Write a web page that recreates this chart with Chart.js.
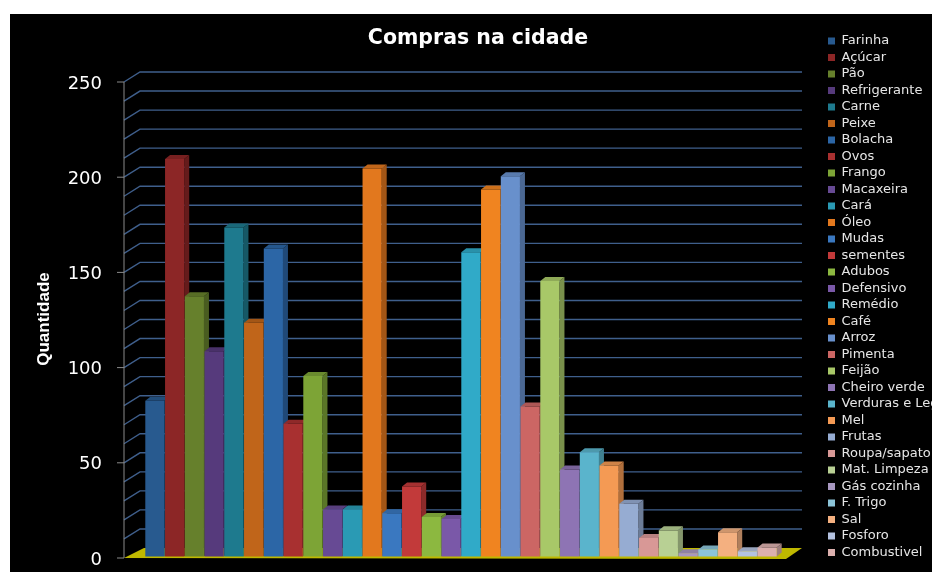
<!DOCTYPE html>
<html lang="pt">
<head>
    <meta charset="UTF-8">
    <title>Compras na cidade</title>
    <style>
body, html {
    margin: 0;
    padding: 0;
    background-color: #ffffff;
    overflow: hidden;
}

#painel {
    position: absolute;
    left: 10px;
    top: 14px;
    width: 922px;
    height: 558px;
    background-color: #000000;
}
    </style>
    <script src="https://cdn.jsdelivr.net/npm/chart.js"></script>
</head>
<body>
    <div id="painel"><canvas id="compras" width="922" height="558"></canvas></div>

    <script>
        const produtos = ['Farinha', 'Açúcar', 'Pão', 'Refrigerante', 'Carne', 'Peixe', 'Bolacha', 'Ovos',
            'Frango', 'Macaxeira', 'Cará', 'Óleo', 'Mudas', 'sementes', 'Adubos', 'Defensivo',
            'Remédio', 'Café', 'Arroz', 'Pimenta', 'Feijão', 'Cheiro verde', 'Verduras e Legumes', 'Mel',
            'Frutas', 'Roupa/sapato', 'Mat. Limpeza', 'Gás cozinha', 'F. Trigo', 'Sal', 'Fosforo', 'Combustivel'];
        const quantidades = [82, 209, 137, 108, 173, 123, 162, 70,
            95, 25, 25, 204, 23, 37, 21, 20,
            160, 193, 200, 79, 145, 46, 55, 48,
            28, 10, 14, 2, 4, 13, 3, 5];
        const cores = ['#285a8f', '#8c2626', '#66802c', '#563a7c', '#1e7a8e', '#c0651a',
            '#2c66a6', '#a83030', '#7da436', '#674a94', '#2a9ab4', '#e2781e',
            '#3a78c0', '#c23a3a', '#8cb840', '#7a58a8', '#30aac8', '#f08420',
            '#6890cc', '#cc6664', '#a8c868', '#8e74b4', '#5ab4cc', '#f49a54',
            '#96acd2', '#d89896', '#b8d094', '#a898c0', '#8cc4d8', '#f4b080',
            '#b4c2e0', '#dcb0ae'];
        const eixoTicks = [0, 50, 100, 150, 200, 250];

        // side faces, walls and floor are drawn from the chart's own scales
        const PROF_X = 16, PROF_Y = 10;
        const LADO_X = 5, LADO_Y = 4;

        function escurecer(hex, f) {
            const n = parseInt(hex.slice(1), 16);
            const c = [n >> 16, (n >> 8) & 255, n & 255].map(v => Math.round(v * f));
            return `rgb(${c[0]}, ${c[1]}, ${c[2]})`;
        }

        const cenario3d = {
            id: 'cenario3d',
            afterLayout(chart) {
                // the legend sits further right and lower than its box would put it
                chart.legend.left = 814.5;
                chart.legend.top = 17;
                chart.legend.bottom = chart.height;
            },
            beforeDatasetsDraw(chart) {
                const ctx = chart.ctx;
                const y = chart.scales.y;
                const { left, right } = chart.chartArea;
                const x0 = left - 21, x1 = right + 9;
                ctx.save();
                // grid lines run along the side wall and the back wall
                ctx.strokeStyle = '#3f5f8c';
                ctx.lineWidth = 1.4;
                for (let v = 10; v <= 250; v += 10) {
                    const py = y.getPixelForValue(v) + 1;
                    ctx.beginPath();
                    ctx.moveTo(x0, py);
                    ctx.lineTo(x0 + PROF_X, py - PROF_Y);
                    ctx.lineTo(x1 + PROF_X, py - PROF_Y);
                    ctx.stroke();
                }
                // floor
                const py0 = y.getPixelForValue(0) + 1;
                ctx.fillStyle = '#bfb800';
                ctx.beginPath();
                ctx.moveTo(x0, py0);
                ctx.lineTo(x0 + PROF_X + 4, py0 - PROF_Y);
                ctx.lineTo(x1 + PROF_X, py0 - PROF_Y);
                ctx.lineTo(x1, py0 + 1);
                ctx.closePath();
                ctx.fill();
                // value axis line and its marks
                ctx.strokeStyle = '#8a8a8a';
                ctx.lineWidth = 1;
                ctx.beginPath();
                ctx.moveTo(x0, y.getPixelForValue(250) + 1);
                ctx.lineTo(x0, py0);
                eixoTicks.forEach(v => {
                    const py = y.getPixelForValue(v) + 1;
                    ctx.moveTo(x0 - 7, py);
                    ctx.lineTo(x0, py);
                });
                ctx.stroke();
                // side and top faces of each bar, left to right, fronts go on top of these
                produtos.forEach((nome, i) => {
                    const bar = chart.getDatasetMeta(i).data[0];
                    const cor = cores[i];
                    const meia = bar.width / 2;
                    const esq = bar.x - meia, dir = bar.x + meia;
                    ctx.fillStyle = escurecer(cor, 0.72);
                    ctx.beginPath();
                    ctx.moveTo(dir, bar.y);
                    ctx.lineTo(dir + LADO_X, bar.y - LADO_Y);
                    ctx.lineTo(dir + LADO_X, bar.base - LADO_Y);
                    ctx.lineTo(dir, bar.base);
                    ctx.closePath();
                    ctx.fill();
                    ctx.fillStyle = escurecer(cor, 0.85);
                    ctx.beginPath();
                    ctx.moveTo(esq, bar.y);
                    ctx.lineTo(esq + LADO_X, bar.y - LADO_Y);
                    ctx.lineTo(dir + LADO_X, bar.y - LADO_Y);
                    ctx.lineTo(dir, bar.y);
                    ctx.closePath();
                    ctx.fill();
                });
                ctx.restore();
            }
        };

        new Chart(document.getElementById('compras'), {
            type: 'bar',
            data: {
                labels: ['Compras'],
                datasets: produtos.map((nome, i) => ({
                    label: nome,
                    data: [quantidades[i]],
                    backgroundColor: cores[i],
                    barPercentage: 0.97,
                    categoryPercentage: 1
                }))
            },
            options: {
                responsive: false,
                animation: false,
                layout: { padding: { left: 14, right: 0, top: 0, bottom: 15 } },
                plugins: {
                    title: {
                        display: true,
                        text: 'Compras na cidade',
                        color: '#ffffff',
                        font: { family: "'DejaVu Sans'", size: 20.5, weight: 'bold' },
                        padding: { top: 12, bottom: 30.4 }
                    },
                    legend: {
                        position: 'right',
                        align: 'start',
                        maxWidth: 155,
                        labels: {
                            color: '#e6e6e6',
                            font: { family: "'DejaVu Sans'", size: 13, lineHeight: 1 },
                            boxWidth: 7,
                            boxHeight: 7,
                            padding: 3.5
                        }
                    },
                    tooltip: { enabled: false }
                },
                scales: {
                    x: { display: false, grid: { display: false } },
                    y: {
                        min: 0,
                        max: 250,
                        afterFit(scale) { scale.width = 121; },
                        grid: { display: true, color: 'transparent', tickLength: 43 },
                        border: { display: false },
                        ticks: {
                            stepSize: 50,
                            color: '#ffffff',
                            padding: 0,
                            // empty first line nudges the numbers a little below their tick
                            callback: v => ['', String(v)],
                            font: { family: "'DejaVu Sans'", size: 18, lineHeight: '6px' }
                        },
                        title: {
                            display: true,
                            text: 'Quantidade',
                            color: '#ffffff',
                            padding: { top: 10, bottom: 0 },
                            font: { family: "'Liberation Sans'", size: 17, weight: 'bold' }
                        }
                    }
                }
            },
            plugins: [cenario3d]
        });
    </script>
</body>
</html>
